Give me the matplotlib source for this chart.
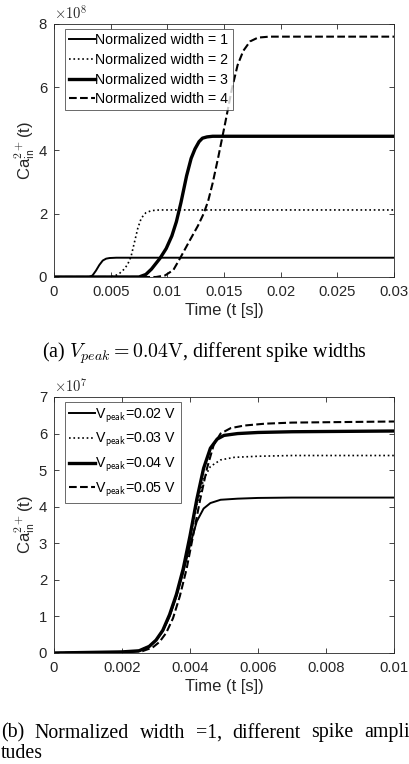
import matplotlib
matplotlib.use('Agg')
import matplotlib.pyplot as plt

plt.rcParams['font.family'] = ['Liberation Sans', 'DejaVu Sans']
plt.rcParams['mathtext.fontset'] = 'cm'

# --- (a) Vpeak = 0.04 V, different spike widths (y in units of 1e8) ---
t_w1 = [0, 0.0031, 0.0034, 0.0037, 0.0040, 0.0043, 0.0046, 0.0049, 0.0055, 0.03]
ca_w1 = [0, 0, 0.05, 0.2, 0.38, 0.52, 0.58, 0.6, 0.61, 0.61]

t_w2 = [0, 0.0049, 0.0054, 0.0058, 0.0062, 0.0065, 0.0068, 0.0071, 0.0074, 0.0077, 0.0081,
        0.0086, 0.0093, 0.03]
ca_w2 = [0, 0, 0.04, 0.12, 0.25, 0.4, 0.65, 1.1, 1.55, 1.86, 2.03, 2.1, 2.12, 2.12]

t_w3 = [0, 0.0075, 0.0081, 0.0086, 0.00935, 0.0099, 0.0104, 0.0108, 0.0112, 0.0117, 0.0121,
        0.01244, 0.0128, 0.0131, 0.0135, 0.0140, 0.03]
ca_w3 = [0, 0, 0.08, 0.25, 0.59, 0.9, 1.3, 1.75, 2.35, 3.2, 3.75, 4.05, 4.28, 4.39, 4.43,
         4.45, 4.45]

t_w4 = [0, 0.0090, 0.0098, 0.01053, 0.01112, 0.0120, 0.0127, 0.0132, 0.0136, 0.0140, 0.0145,
        0.0151, 0.01568, 0.0162, 0.0167, 0.0173, 0.0180, 0.0190, 0.03]
ca_w4 = [0, 0, 0.05, 0.22, 0.59, 1.17, 1.62, 2.0, 2.4, 2.97, 3.8, 4.86, 5.92, 6.7, 7.15, 7.45,
         7.57, 7.6, 7.6]

labels_a = ['Normalized width = 1', 'Normalized width = 2',
            'Normalized width = 3', 'Normalized width = 4']
xticks_a = [0, 0.005, 0.01, 0.015, 0.02, 0.025, 0.03]
xticklabels_a = ['0', '0.005', '0.01', '0.015', '0.02', '0.025', '0.03']
yticks_a = [0, 2, 4, 6, 8]

# --- (b) width = 1, different spike amplitudes (y in units of 1e7) ---
t_v2 = [0, 0.002, 0.0025, 0.0028, 0.003, 0.0032, 0.0034, 0.0036, 0.0038, 0.004, 0.0042,
        0.0044, 0.0046, 0.0049, 0.0054, 0.006, 0.007, 0.01]
ca_v2 = [0, 0.03, 0.06, 0.18, 0.35, 0.6, 1.0, 1.55, 2.2, 2.95, 3.6, 3.95, 4.1, 4.19, 4.22,
         4.24, 4.25, 4.25]

t_v3 = [0, 0.002, 0.0025, 0.0028, 0.003, 0.0032, 0.0034, 0.0036, 0.0038, 0.004, 0.0042,
        0.0044, 0.0046, 0.0049, 0.0053, 0.006, 0.007, 0.01]
ca_v3 = [0, 0.03, 0.06, 0.18, 0.35, 0.62, 1.05, 1.6, 2.3, 3.15, 4.05, 4.75, 5.1, 5.28, 5.35,
         5.38, 5.4, 5.4]

t_v4 = [0, 0.002, 0.0025, 0.0028, 0.003, 0.0032, 0.0034, 0.0036, 0.0038, 0.004, 0.0042,
        0.0044, 0.0046, 0.0048, 0.005, 0.0054, 0.006, 0.007, 0.01]
ca_v4 = [0, 0.03, 0.06, 0.18, 0.35, 0.62, 1.05, 1.6, 2.3, 3.2, 4.2, 5.05, 5.6, 5.85, 5.95,
         6.0, 6.03, 6.05, 6.07]

t_v5 = [0, 0.002, 0.0026, 0.0029, 0.0031, 0.0033, 0.0035, 0.0037, 0.0039, 0.0041, 0.0043,
        0.0045, 0.0047, 0.0049, 0.0052, 0.0056, 0.0062, 0.007, 0.01]
ca_v5 = [0, 0.02, 0.05, 0.15, 0.3, 0.55, 0.95, 1.55, 2.3, 3.25, 4.2, 5.05, 5.7, 6.0, 6.15,
         6.22, 6.27, 6.3, 6.33]

labels_b = [r'V$_{\mathsf{peak}}$=0.02 V', r'V$_{\mathsf{peak}}$=0.03 V',
            r'V$_{\mathsf{peak}}$=0.04 V', r'V$_{\mathsf{peak}}$=0.05 V']
xticks_b = [0, 0.002, 0.004, 0.006, 0.008, 0.01]
xticklabels_b = ['0', '0.002', '0.004', '0.006', '0.008', '0.01']
yticks_b = [0, 1, 2, 3, 4, 5, 6, 7]

caption_a = r'(a) $V_{peak}=0.04\mathrm{V}$, different spike widths'
caption_b1 = '(b) Normalized width =1, different spike ampli'
caption_b2 = 'tudes'

W, H = 409, 764
fig = plt.figure(figsize=(W / 100, H / 100), dpi=100)

ax1 = fig.add_axes([54 / W, 1 - 277 / H, 340 / W, 253 / H])
ax2 = fig.add_axes([54 / W, 1 - 653 / H, 340 / W, 256 / H])

ax1.plot(t_w1, ca_w1, color='black', lw=1.4, linestyle='-', label=labels_a[0])
ax1.plot(t_w2, ca_w2, color='black', lw=1.2, linestyle=':', label=labels_a[1])
ax1.plot(t_w3, ca_w3, color='black', lw=2.4, linestyle='-', label=labels_a[2])
ax1.plot(t_w4, ca_w4, color='black', lw=1.5, linestyle='--', label=labels_a[3])

ax2.plot(t_v2, ca_v2, color='black', lw=1.4, linestyle='-', label=labels_b[0])
ax2.plot(t_v3, ca_v3, color='black', lw=1.2, linestyle=':', label=labels_b[1])
ax2.plot(t_v4, ca_v4, color='black', lw=2.4, linestyle='-', label=labels_b[2])
ax2.plot(t_v5, ca_v5, color='black', lw=1.5, linestyle='--', label=labels_b[3])

axcol = '#262626'
for ax, xt, xtl, yt, exp, hpx, lsp in [(ax1, xticks_a, xticklabels_a, yticks_a, '8', 253, 0.4),
                                       (ax2, xticks_b, xticklabels_b, yticks_b, '7', 256, 0.45)]:
    ax.set_xlim(xt[0], xt[-1])
    ax.set_ylim(yt[0], yt[-1])
    ax.set_xticks(xt)
    ax.set_xticklabels(xtl)
    ax.set_yticks(yt)
    ax.set_yticklabels([str(v) for v in yt])
    ax.tick_params(direction='in', top=True, right=True, length=3.5, width=0.6,
                   labelsize=10.7, colors=axcol)
    ax.tick_params(axis='x', pad=6)
    ax.tick_params(axis='y', pad=5)
    for s in ax.spines.values():
        s.set_color(axcol)
        s.set_linewidth(0.6)
    ax.set_xlabel('Time (t [s])', fontsize=12, color=axcol, labelpad=3)
    ax.set_ylabel(r'Ca$^{\mathsf{2+}}_{\mathsf{in}}$(t)', fontsize=12, color=axcol, labelpad=1)
    ax.text(0.0, 1.005, r'$\times\mathsf{10^{' + exp + r'}}$', transform=ax.transAxes,
            ha='left', va='bottom', fontsize=10.5, color=axcol)
    leg = ax.legend(loc='upper left', bbox_to_anchor=(11 / 340, 1 - 5 / hpx), borderaxespad=0,
                    fontsize=10.2, frameon=True, fancybox=False, handlelength=1.8,
                    handletextpad=0.05, labelspacing=lsp, borderpad=0.3)
    leg.get_frame().set_edgecolor(axcol)
    leg.get_frame().set_linewidth(0.6)

cap_font = ['Liberation Serif', 'DejaVu Serif']
fig.text(0.5, 1 - 353 / H, caption_a, ha='center', va='center', fontsize=14.3, family=cap_font)

# justified first line of caption (b), spanning the full width
fig.canvas.draw()
renderer = fig.canvas.get_renderer()
words = caption_b1.split(' ')
items = [fig.text(0, 1 - 733 / H, w, ha='left', va='center', fontsize=14.3, family=cap_font)
         for w in words]
widths = [it.get_window_extent(renderer).width for it in items]
x0, x1 = 1, W + 1
gap = (x1 - x0 - sum(widths)) / (len(words) - 1)
xpos = x0
for it, wd in zip(items, widths):
    it.set_x(xpos / W)
    xpos += wd + gap
fig.text(1 / W, 1 - 753 / H, caption_b2, ha='left', va='center', fontsize=14.3, family=cap_font)

fig.savefig('out.png', dpi=100)
